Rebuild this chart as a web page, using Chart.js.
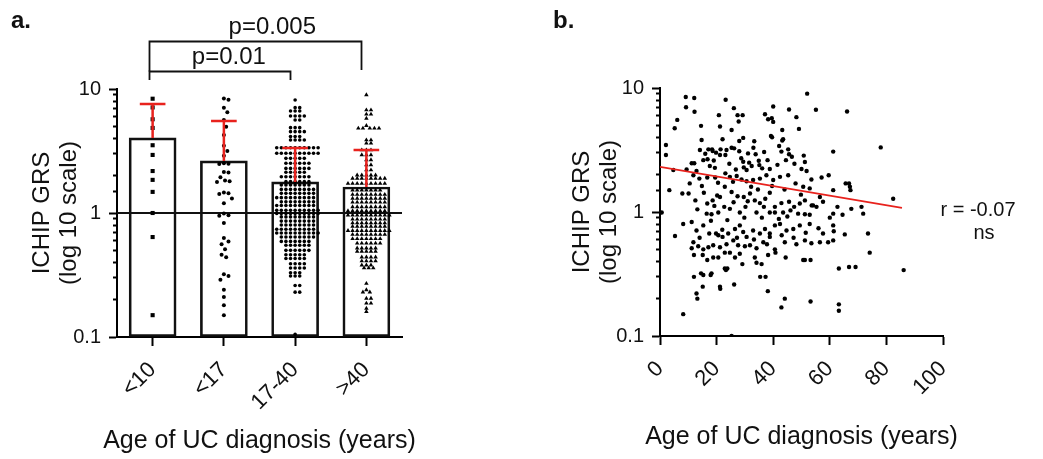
<!DOCTYPE html>
<html lang="en">
<head>
<meta charset="UTF-8">
<title>ICHIP GRS and age of UC diagnosis</title>
<script src="https://cdn.jsdelivr.net/npm/chart.js"></script>
<style>
    body { margin: 0; background: #fff; }
    .wrap { position: relative; width: 1043px; height: 459px; overflow: hidden; }
    canvas { position: absolute; top: 0; }
    #panelA { left: 0; }
    #panelB { left: 520px; }
</style>
</head>
<body>
<div class="wrap">
    <canvas id="panelA" width="520" height="459"></canvas>
    <canvas id="panelB" width="523" height="459"></canvas>
</div>
<script>
// ---- panel a data ----
const groups = ['<10', '<17', '17-40', '>40'];
const groupMeans = [4.03, 2.63, 1.78, 1.62];
const groupSdTop = [7.57, 5.52, 3.34, 3.22];
const comparisons = [
    { from: 0, to: 2, label: 'p=0.01', labelAt: 1.07 },
    { from: 0, to: 3, label: 'p=0.005', labelAt: 1.68 }
];
const xAxisTitle = 'Age of UC diagnosis (years)';

const grsUnder10 = [8.35, 7.1, 5.7, 4.85, 3.52, 2.94, 2.18, 1.85, 1.48, 1.0, 0.64, 0.15];

const grsUnder17 = [8.4, 8.2, 7.07, 6.49, 5.62, 4.97, 4.26, 3.49, 3.16, 2.9, 2.52, 2.5, 2.48,
    2.14, 2.12, 1.94, 1.83, 1.8, 1.78, 1.46, 1.44, 1.42, 1.31, 1.2, 0.99, 0.96, 0.95, 0.83,
    0.63, 0.59, 0.56, 0.51, 0.46, 0.44, 0.32, 0.31, 0.29, 0.24, 0.21, 0.18, 0.15];

const grs17to40 = [
    8.15,
    7.07, 7.07,
    6.65, 6.65, 6.65,
    6.06, 6.06, 6.06, 6.06,
    5.62, 5.62,
    4.88, 4.88, 4.88,
    4.53, 4.53, 4.53, 4.53,
    4.13, 4.13, 4.13,
    3.88, 3.88, 3.88, 3.88,
    3.36, 3.36, 3.36, 3.36, 3.36, 3.36, 3.36, 3.36, 3.36, 3.36,
    3.03, 3.03, 3.03, 3.03, 3.03, 3.03, 3.03, 3.03, 3.03, 3.03,
    2.76, 2.76, 2.76, 2.76, 2.76,
    2.52, 2.52, 2.52, 2.52, 2.52, 2.52,
    2.29, 2.29, 2.29, 2.29, 2.29, 2.29,
    2.13, 2.13, 2.13, 2.13, 2.13,
    1.96, 1.96, 1.96, 1.96, 1.96, 1.96, 1.96,
    1.79, 1.79, 1.79, 1.79, 1.79, 1.79,
    1.68, 1.68, 1.68, 1.68, 1.68, 1.68, 1.68,
    1.55, 1.55, 1.55, 1.55, 1.55, 1.55, 1.55, 1.55,
    1.44, 1.44, 1.44, 1.44, 1.44, 1.44, 1.44, 1.44,
    1.33, 1.33, 1.33, 1.33, 1.33, 1.33, 1.33, 1.33, 1.33,
    1.23, 1.23, 1.23, 1.23, 1.23, 1.23, 1.23, 1.23,
    1.15, 1.15, 1.15, 1.15, 1.15, 1.15, 1.15, 1.15, 1.15,
    1.05, 1.05, 1.05, 1.05, 1.05, 1.05, 1.05, 1.05, 1.05, 1.05,
    0.99, 0.99, 0.99, 0.99, 0.99, 0.99, 0.99, 0.99, 0.99, 0.99,
    0.93, 0.93, 0.93, 0.93, 0.93, 0.93, 0.93, 0.93,
    0.86, 0.86, 0.86, 0.86, 0.86, 0.86, 0.86, 0.86,
    0.80, 0.80, 0.80, 0.80, 0.80, 0.80, 0.80, 0.80,
    0.74, 0.74, 0.74, 0.74, 0.74, 0.74, 0.74, 0.74, 0.74,
    0.69, 0.69, 0.69, 0.69, 0.69, 0.69, 0.69, 0.69, 0.69, 0.69,
    0.64, 0.64, 0.64, 0.64, 0.64, 0.64, 0.64, 0.64,
    0.59, 0.59, 0.59, 0.59, 0.59, 0.59, 0.59,
    0.55, 0.55, 0.55, 0.55, 0.55, 0.55,
    0.50, 0.50, 0.50, 0.50, 0.50, 0.50,
    0.46, 0.46, 0.46, 0.46, 0.46,
    0.43, 0.43, 0.43, 0.43, 0.43,
    0.39, 0.39, 0.39, 0.39,
    0.36, 0.36, 0.36, 0.36,
    0.33, 0.33, 0.33,
    0.31, 0.31, 0.31,
    0.26, 0.26,
    0.23, 0.23,
    0.105
];

const grsOver40 = [
    8.95,
    6.77, 6.77,
    6.25, 6.25,
    5.8,
    5.06,
    4.82, 4.82, 4.82, 4.82, 4.82,
    3.88, 3.88,
    3.65, 3.65,
    3.22, 3.22, 3.22,
    2.94, 2.94, 2.94,
    2.68, 2.68,
    2.44, 2.44,
    2.22, 2.22,
    2.02, 2.02, 2.02, 2.02, 2.02,
    1.9, 1.9, 1.9, 1.9, 1.9, 1.9, 1.9, 1.9,
    1.73, 1.73, 1.73, 1.73, 1.73, 1.73, 1.73, 1.73, 1.73,
    1.53, 1.53, 1.53, 1.53, 1.53, 1.53, 1.53,
    1.41, 1.41, 1.41, 1.41, 1.41, 1.41, 1.41, 1.41,
    1.31, 1.31, 1.31, 1.31, 1.31, 1.31, 1.31, 1.31,
    1.22, 1.22, 1.22, 1.22, 1.22, 1.22, 1.22, 1.22,
    1.12, 1.12, 1.12, 1.12, 1.12, 1.12, 1.12, 1.12,
    1.04, 1.04, 1.04, 1.04, 1.04, 1.04, 1.04, 1.04, 1.04,
    0.96, 0.96, 0.96, 0.96, 0.96, 0.96, 0.96, 0.96, 0.96, 0.96,
    0.89, 0.89, 0.89, 0.89, 0.89, 0.89, 0.89, 0.89,
    0.83, 0.83, 0.83, 0.83, 0.83, 0.83, 0.83, 0.83,
    0.78, 0.78, 0.78, 0.78, 0.78, 0.78, 0.78, 0.78,
    0.72, 0.72, 0.72, 0.72, 0.72, 0.72, 0.72, 0.72, 0.72, 0.72,
    0.67, 0.67, 0.67, 0.67, 0.67, 0.67, 0.67, 0.67,
    0.62, 0.62, 0.62, 0.62, 0.62, 0.62, 0.62,
    0.57, 0.57, 0.57, 0.57, 0.57, 0.57,
    0.52, 0.52, 0.52, 0.52, 0.52,
    0.49, 0.49, 0.49, 0.49, 0.49,
    0.44, 0.44, 0.44, 0.44,
    0.41, 0.41, 0.41, 0.41,
    0.38, 0.38, 0.38,
    0.36, 0.36, 0.36,
    0.27,
    0.24,
    0.23, 0.23,
    0.205, 0.205,
    0.187, 0.187,
    0.17,
    0.16
];

const groupValues = [grsUnder10, grsUnder17, grs17to40, grsOver40];
const groupMarkers = ['rect', 'circle', 'circle', 'triangle'];
const groupMarkerSize = [2.9, 2.0, 1.8, 2.6];
// how far up/down a neighbouring dot still pushes a dot sideways, per column (px)
const swarmReach = [1, 7, 3.2, 3.2];

// ---- panel b data: [age at diagnosis, ICHIP GRS] ----
const ucPoints = [
    [9.1, 8.45], [12.1, 8.3], [23.2, 8.04], [52.0, 9.0], [26.1, 6.88], [9.2, 7.0], [12.2, 6.43], [40.0, 7.1], [55.1, 6.67], [66.1, 6.47],
    [14.5, 4.95], [6.1, 5.53], [5.2, 4.74], [20.8, 6.04], [27.4, 6.04], [29.2, 6.04], [37.1, 6.15], [39.5, 5.71], [45.6, 6.71], [48.2, 5.82],
    [49.1, 4.68], [21.2, 4.89], [25.3, 4.59], [27.8, 5.37], [40.0, 5.33], [38.2, 5.6], [43.2, 4.59], [43.5, 3.86],
    [2.1, 3.47], [14.7, 3.81], [18.4, 3.2], [22.1, 3.86], [28.0, 3.74], [29.4, 3.96], [33.3, 3.72], [39.2, 4.11], [39.6, 4.01], [42.1, 3.41],
    [43.2, 3.77], [45.3, 3.2], [45.6, 2.92], [46.6, 2.79], [21.4, 3.2], [23.5, 3.16], [25.3, 3.3], [26.2, 3.26], [28.0, 3.09], [14.1, 3.16],
    [17.1, 3.2], [18.6, 3.1], [19.8, 3.01], [21.2, 2.88], [23.1, 2.88], [2.1, 2.88], [12.1, 2.47], [15.3, 2.62], [16.8, 2.66], [11.8, 1.98],
    [9.4, 2.2], [11.2, 2.47], [17.6, 2.35], [19.4, 2.27], [28.7, 2.71], [31.1, 2.97], [33.8, 2.92], [34.9, 2.59], [36.1, 2.25], [38.0, 2.62],
    [29.4, 2.54], [29.6, 2.29], [30.6, 2.18], [32.4, 2.35], [35.1, 2.39], [38.8, 2.22], [42.9, 3.07], [44.5, 2.62], [50.8, 2.85], [51.2, 2.53],
    [51.8, 2.14], [61.2, 3.07], [78.0, 3.32], [59.6, 1.98], [65.6, 1.7], [66.8, 1.7], [67.1, 1.6], [57.1, 1.9], [53.5, 1.83], [50.0, 2.22],
    [12.9, 2.14], [13.9, 1.86], [16.7, 1.9], [19.5, 1.9], [23.1, 2.05], [24.7, 1.92], [27.1, 1.95], [28.8, 1.83], [30.6, 1.77], [32.9, 1.81],
    [35.3, 1.86], [37.6, 1.98], [40.0, 1.81], [42.4, 1.92], [45.3, 1.98], [47.9, 1.7], [50.6, 1.6], [52.9, 1.55], [56.5, 1.32], [61.2, 1.5],
    [62.7, 1.1], [61.2, 0.97], [67.3, 1.5], [67.6, 1.06], [71.2, 1.1], [71.8, 0.97], [82.4, 1.28], [4.7, 2.18], [0.6, 0.99], [3.3, 1.5],
    [7.9, 1.41], [10.1, 1.41], [12.5, 1.24], [15.5, 1.43], [16.7, 1.17], [18.6, 1.24], [20.2, 1.36], [21.2, 1.32], [22.9, 1.6], [25.3, 1.45],
    [27.4, 1.34], [29.6, 1.32], [31.8, 1.41], [33.5, 1.24], [35.3, 1.18], [37.2, 1.28], [38.8, 1.43], [40.6, 1.1], [42.9, 1.18], [45.6, 1.21],
    [47.4, 1.1], [49.4, 1.17], [51.2, 1.24], [53.6, 1.13], [55.3, 1.1], [57.6, 1.21], [16.5, 0.97], [18.2, 0.96], [20.6, 0.99], [22.7, 1.1],
    [24.7, 1.06], [28.2, 0.99], [30.2, 1.1], [34.1, 0.99], [36.7, 1.1], [38.8, 0.99], [40.6, 0.99], [43.5, 0.99], [46.1, 1.03], [48.8, 0.97],
    [51.2, 0.96], [52.9, 0.95], [54.1, 1.13],
    [5.3, 0.64], [8.2, 0.80], [11.2, 0.83], [12.9, 0.71], [15.3, 0.78], [17.4, 0.67], [19.8, 0.67], [20.6, 0.65], [22.1, 0.63], [24.1, 0.67],
    [26.5, 0.73], [28.2, 0.78], [29.4, 0.69], [30.6, 0.63], [32.9, 0.71], [35.3, 0.67], [37.1, 0.73], [38.8, 0.67], [40.6, 0.78], [42.4, 0.8],
    [44.7, 0.71], [47.1, 0.73], [49.4, 0.78], [51.5, 0.68], [52.9, 0.8], [57.6, 0.67], [61.2, 0.78], [61.4, 0.7], [61.2, 0.59], [65.3, 0.66],
    [73.5, 0.67], [11.8, 0.57], [13.5, 0.53], [15.3, 0.50], [17.1, 0.52], [18.8, 0.54], [21.2, 0.52], [23.5, 0.55], [25.9, 0.59], [27.6, 0.54],
    [30.0, 0.53], [31.8, 0.54], [34.1, 0.51], [36.5, 0.57], [38.8, 0.63], [40.6, 0.5], [44.1, 0.57], [48.2, 0.55], [51.2, 0.59], [53.5, 0.56],
    [56.5, 0.57], [59.4, 0.57], [11.2, 0.51], [12.0, 0.45], [15.1, 0.45], [16.7, 0.41], [18.8, 0.43], [20.6, 0.43], [22.9, 0.47], [24.7, 0.47],
    [26.5, 0.43], [28.2, 0.46], [33.5, 0.43], [35.9, 0.38], [38.2, 0.45], [40.8, 0.47], [44.4, 0.43], [50.6, 0.41], [51.2, 0.41], [53.2, 0.41],
    [63.2, 0.35], [66.8, 0.36], [69.1, 0.36], [74.1, 0.47], [86.1, 0.34], [23.3, 0.34], [23.8, 0.35], [29.1, 0.38], [34.1, 0.39],
    [8.2, 0.15], [12.0, 0.3], [12.9, 0.22], [13.2, 0.2], [15.1, 0.25], [14.5, 0.32], [18.2, 0.32], [21.2, 0.25], [21.3, 0.24], [22.9, 0.35],
    [26.2, 0.26], [25.3, 0.10], [35.4, 0.30], [37.3, 0.30], [38.1, 0.23], [42.9, 0.17], [44.1, 0.2], [53.2, 0.19], [63.2, 0.18], [63.2, 0.16],
    [17.9, 0.31], [15.3, 0.31],
    [16.0, 2.95], [19.0, 2.6], [24.5, 2.45], [26.8, 2.2], [31.5, 2.5], [33.0, 3.3], [36.8, 3.05], [41.5, 2.4], [47.5, 2.45], [10.5, 1.7],
    [14.8, 1.62], [20.5, 1.72], [25.8, 1.75], [32.2, 1.6], [34.6, 1.52], [39.6, 1.62], [44.0, 1.52], [49.8, 1.38], [13.2, 1.05], [19.2, 1.12],
    [26.0, 1.2], [31.0, 1.22], [36.0, 0.9], [42.0, 0.88], [45.0, 0.92], [18.0, 0.85], [23.8, 0.86], [29.8, 0.9], [14.0, 0.62], [22.0, 0.72],
    [27.2, 0.62], [33.2, 0.6], [37.8, 0.55], [43.0, 0.65], [47.2, 0.62], [56.0, 0.74], [60.0, 0.9], [64.5, 0.95]
];
const fitLine = [[0, 2.31], [85.5, 1.08]];
const corrText = ['r = -0.07', 'ns'];

const ageTicks = [0, 20, 40, 60, 80, 100];
const grsLabels = [0.1, 1, 10];

// ---- shared styling ----
const FONT = '"Liberation Sans", Arial, sans-serif';
const INK = '#111';
const RED = '#e8221d';
const isDecade = v => Math.abs(Math.log10(v) - Math.round(Math.log10(v))) < 1e-6;

function logAxis(axisWidth, titlePad) {
    return {
        type: 'logarithmic',
        min: 0.1,
        max: 10,
        border: { display: true, color: '#000', width: 2 },
        grid: {
            drawOnChartArea: false,
            tickLength: 8,
            tickWidth: 2,
            tickColor: '#000',
            // minor ticks are drawn shorter: only the part next to the axis
            tickBorderDash: ctx => (ctx.tick && !isDecade(ctx.tick.value)) ? [0, 4, 30] : []
        },
        ticks: {
            autoSkip: false,
            padding: 8,
            color: INK,
            font: { family: FONT, size: 20 },
            callback: v => grsLabels.some(l => Math.abs(l - v) < 1e-9) ? String(v) : ''
        },
        title: {
            display: true,
            text: ['ICHIP GRS', '(log 10 scale)'],
            color: INK,
            font: { family: FONT, size: 24, lineHeight: 1.12 },
            padding: { top: titlePad, bottom: 0 }
        },
        afterFit: s => { s.width = axisWidth; }
    };
}

// the x title is wider than the plot, so it is drawn here rather than as a scale title
// (scale titles get squeezed to the axis width)
function xTitlePlugin(centerY) {
    return {
        id: 'xTitle',
        afterDraw(chart) {
            const { ctx, chartArea } = chart;
            ctx.save();
            ctx.fillStyle = INK;
            ctx.font = '25px ' + FONT;
            ctx.textAlign = 'center';
            ctx.textBaseline = 'middle';
            ctx.fillText(xAxisTitle, (chartArea.left + chartArea.right) / 2, centerY);
            ctx.restore();
        }
    };
}

function panelLabel(text, x) {
    return {
        id: 'panelLabel' + text,
        afterDraw(chart) {
            const ctx = chart.ctx;
            ctx.save();
            ctx.fillStyle = INK;
            ctx.font = 'bold 24px ' + FONT;
            ctx.textBaseline = 'alphabetic';
            ctx.fillText(text, x, 28);
            ctx.restore();
        }
    };
}

// ---- panel a ----
const bracketPlugin = {
    id: 'brackets',
    afterDraw(chart) {
        const { ctx, chartArea, scales: { x } } = chart;
        const rises = [18, 48];
        ctx.save();
        ctx.strokeStyle = '#111';
        ctx.lineWidth = 1.8;
        ctx.fillStyle = INK;
        ctx.font = '24px ' + FONT;
        ctx.textAlign = 'center';
        comparisons.forEach((c, k) => {
            const x1 = Math.round(x.getPixelForValue(c.from)) - 3.5;
            const x2 = Math.round(x.getPixelForValue(c.to)) - 4.5;
            const yb = Math.round(chartArea.top - rises[k]) + 0.5;
            const yEnd = k === 0 ? chartArea.top - 9 : chartArea.top - 19;
            ctx.beginPath();
            ctx.moveTo(x1, k === 0 ? chartArea.top - 9 : yb + 30);
            ctx.lineTo(x1, yb);
            ctx.lineTo(x2, yb);
            ctx.lineTo(x2, yEnd);
            ctx.stroke();
            ctx.fillText(c.label, x.getPixelForValue(c.labelAt), yb - 8);
        });
        ctx.restore();
    }
};

const datasetsA = [
    {
        type: 'bar',
        data: groupMeans.map((m, i) => ({ x: i, y: m })),
        base: 0.1,
        barThickness: 47,
        backgroundColor: 'rgba(255,255,255,0)',
        borderColor: '#111',
        borderWidth: 2,
        borderSkipped: false,
        order: 4
    },
    {
        type: 'line',
        data: [{ x: -0.5, y: 1 }, { x: 3.5, y: 1 }],
        borderColor: '#111',
        borderWidth: 2,
        pointRadius: 0,
        order: 3
    }
];
groupValues.forEach((vals, g) => {
    datasetsA.push({
        type: 'scatter',
        data: vals.map(v => ({ x: g, y: v })),
        pointStyle: groupMarkers[g],
        pointRadius: groupMarkerSize[g],
        backgroundColor: '#000',
        borderColor: '#000',
        borderWidth: 0,
        order: 2
    });
});
groupMeans.forEach((m, g) => {
    const top = groupSdTop[g];
    datasetsA.push({
        type: 'line',
        data: [{ x: g, y: m }, { x: g, y: top }, { x: g - 0.18, y: top }, { x: g + 0.18, y: top }],
        borderColor: RED,
        borderWidth: 2.5,
        pointRadius: 0,
        order: 1
    });
});

const chartA = new Chart(document.getElementById('panelA'), {
    type: 'scatter',
    data: { datasets: datasetsA },
    options: {
        responsive: false,
        animation: false,
        layout: { padding: { left: 0, right: 118, top: 89, bottom: 0 } },
        plugins: { legend: { display: false }, tooltip: { enabled: false } },
        scales: {
            x: {
                type: 'linear',
                min: -0.5,
                max: 3.5,
                offset: false,
                border: { display: true, color: '#000', width: 2 },
                grid: { drawOnChartArea: false, offset: false, tickLength: 9, tickWidth: 2, tickColor: '#000' },
                afterBuildTicks: s => { s.ticks = groups.map((_, i) => ({ value: i })); },
                ticks: {
                    autoSkip: false,
                    minRotation: 45,
                    maxRotation: 45,
                    padding: 11,
                    color: INK,
                    font: { family: FONT, size: 22 },
                    callback: v => groups[v]
                },
                afterFit: s => { s.height = 122; }
            },
            y: logAxis(117, 29)
        }
    },
    plugins: [bracketPlugin, xTitlePlugin(441), panelLabel('a.', 11)]
});

// spread the dots of each column sideways so they do not overlap (scatter dot plot rows)
function swarmOffsets(py, d, h) {
    const order = py.map((_, i) => i).sort((a, b) => py[a] - py[b]);
    const placed = [];
    const out = new Array(py.length).fill(0);
    order.forEach(i => {
        const y = py[i];
        const near = placed.filter(p => Math.abs(p.y - y) < h);
        for (let n = 0; n < 400; n++) {
            const c = (n % 2 ? 1 : -1) * Math.ceil(n / 2) * d / 4;
            if (near.every(p => ((p.x - c) / d) ** 2 + ((p.y - y) / h) ** 2 >= 0.97)) {
                out[i] = c;
                placed.push({ x: c, y });
                break;
            }
        }
    });
    return out;
}

function spreadGroups(chart) {
    const xs = chart.scales.x, ys = chart.scales.y;
    const pxPerGroup = xs.getPixelForValue(1) - xs.getPixelForValue(0);
    groupValues.forEach((vals, g) => {
        const offs = swarmOffsets(vals.map(v => ys.getPixelForValue(v)), 4.6, swarmReach[g]);
        chart.data.datasets[2 + g].data = vals.map((v, i) => ({ x: g + offs[i] / pxPerGroup, y: v }));
    });
    chart.update('none');
}
spreadGroups(chartA);

// ---- panel b ----
const corrPlugin = {
    id: 'corrText',
    afterDraw(chart) {
        const ctx = chart.ctx;
        ctx.save();
        ctx.fillStyle = INK;
        ctx.font = '20px ' + FONT;
        ctx.textAlign = 'center';
        ctx.fillText(corrText[0], 458, 216);
        ctx.fillText(corrText[1], 464, 239);
        ctx.restore();
    }
};

new Chart(document.getElementById('panelB'), {
    type: 'scatter',
    data: {
        datasets: [
            {
                data: ucPoints.map(p => ({ x: p[0], y: p[1] })),
                pointRadius: 2.2,
                backgroundColor: '#000',
                borderWidth: 0,
                order: 2
            },
            {
                type: 'line',
                data: fitLine.map(p => ({ x: p[0], y: p[1] })),
                borderColor: RED,
                borderWidth: 1.8,
                pointRadius: 0,
                order: 1
            }
        ]
    },
    options: {
        responsive: false,
        animation: false,
        layout: { padding: { left: 0, right: 100, top: 88, bottom: 0 } },
        plugins: { legend: { display: false }, tooltip: { enabled: false } },
        scales: {
            x: {
                type: 'linear',
                min: 0,
                max: 100,
                border: { display: true, color: '#000', width: 2 },
                grid: { drawOnChartArea: false, tickLength: 9, tickWidth: 2, tickColor: '#000' },
                afterBuildTicks: s => { s.ticks = ageTicks.map(v => ({ value: v })); },
                ticks: {
                    autoSkip: false,
                    minRotation: 45,
                    maxRotation: 45,
                    padding: 11,
                    color: INK,
                    font: { family: FONT, size: 22 }
                },
                afterFit: s => { s.height = 123; }
            },
            y: logAxis(140, 49)
        }
    },
    plugins: [corrPlugin, xTitlePlugin(437), panelLabel('b.', 33)]
});
</script>
</body>
</html>
